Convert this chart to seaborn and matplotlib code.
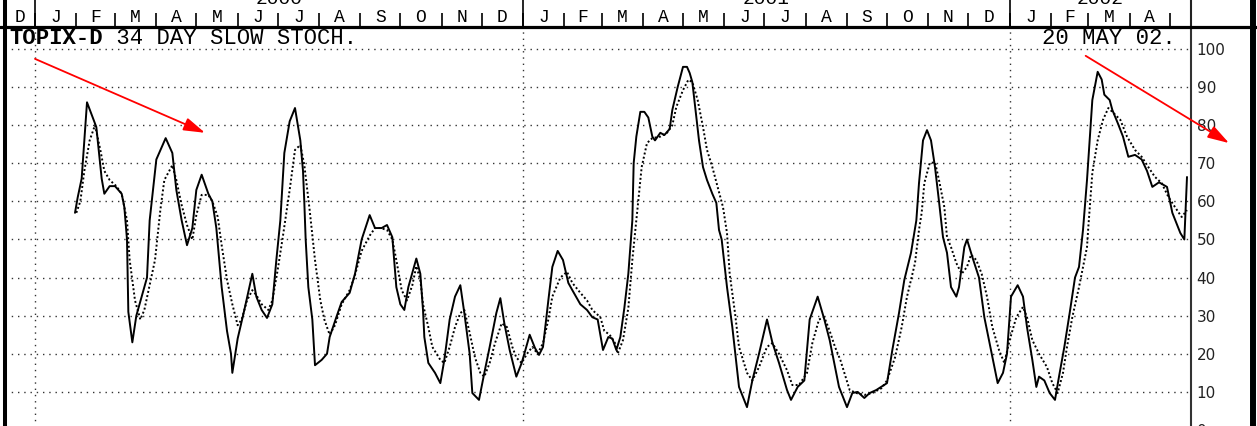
import pandas as pd
import matplotlib
matplotlib.use("Agg")
import matplotlib.pyplot as plt
from matplotlib.lines import Line2D
import seaborn as sns

# 基準日（日数はここからの経過日）
start = pd.Timestamp("2000-01-01")

# %K（実線）
k_days = [
    30, 32, 35, 39, 46, 50, 52, 56, 60, 65,
    67, 69, 70, 73, 76, 80, 84, 86, 91, 98,
    103, 106, 110, 114, 118, 121, 125, 130, 133, 136,
    140, 144, 147, 148, 152, 157, 163, 166, 170, 174,
    178, 181, 184, 187, 191, 195, 199, 201, 202, 203,
    205, 208, 210, 215, 219, 221, 226, 230, 236, 240,
    245, 251, 255, 260, 264, 268, 271, 274, 277, 280,
    286, 289, 291, 292, 295, 300, 304, 307, 311, 315,
    319, 322, 326, 328, 333, 337, 341, 346, 349, 352,
    356, 361, 365, 367, 371, 375, 378, 381, 385, 388,
    392, 396, 400, 403, 409, 414, 418, 422, 426, 430,
    433, 436, 439, 442, 445, 448, 449, 451, 454, 457,
    460, 463, 465, 469, 472, 476, 478, 482, 486, 489,
    491, 493, 496, 498, 501, 504, 508, 511, 513, 515,
    519, 523, 528, 534, 538, 543, 549, 553, 558, 564,
    567, 572, 577, 581, 587, 592, 596, 600, 603, 609,
    613, 617, 622, 626, 631, 639, 643, 648, 652, 657,
    661, 663, 666, 669, 672, 675, 678, 681, 684, 687,
    691, 693, 697, 699, 703, 708, 712, 717, 722, 726,
    729, 732, 737, 741, 744, 748, 751, 753, 757, 761,
    765, 768, 772, 776, 780, 783, 786, 789, 791, 793,
    797, 800, 802, 806, 808, 812, 816, 820, 825, 830,
    834, 838, 843, 849, 853, 859, 862, 864,
]
k_vals = [
    57, 61, 66, 86, 79.5, 66, 62, 64, 64, 62,
    58.5, 50, 31, 23, 30, 35, 40, 55, 71, 76.6,
    72.7, 63, 55, 48.5, 53, 63, 67, 62, 60, 53,
    37.5, 26, 20, 15, 24, 31.5, 41, 35, 31.5, 29.4,
    33, 44.6, 55, 72.7, 81, 84.5, 76, 68, 59.6, 50,
    37.5, 29, 17, 18.4, 20, 24.4, 29.6, 33.6, 36, 41,
    50, 56.4, 53, 53, 53.8, 50.6, 37.5, 33, 31.5, 37.5,
    45, 41, 31.5, 24.4, 17.6, 15, 12.3, 18.4, 29, 35,
    38, 30.7, 20, 9.7, 7.9, 15, 21.8, 30.7, 34.6, 28,
    21, 14, 17.6, 20, 25, 21.5, 19.7, 21.8, 34, 42.8,
    47, 44.6, 38.6, 36.7, 33, 31.5, 29.6, 29, 21, 24.4,
    24, 21, 24.4, 32, 41, 55, 70, 77, 83.5, 83.5,
    82, 77, 76, 78, 77.4, 79, 84, 90, 95.3, 95.3,
    93.7, 91.3, 82, 76, 69, 65.6, 62, 59.6, 52.5, 50,
    37.5, 27, 11.3, 6, 13, 20, 29, 23, 17.6, 10.5,
    7.9, 11.3, 13, 29, 35, 29, 23.6, 16.5, 11.3, 6,
    9.7, 10, 8.4, 9.7, 10.5, 12.3, 21, 30.7, 39.4, 46.5,
    55, 64.8, 76, 78.7, 76, 69, 60, 50.6, 46.5, 37.5,
    35, 37.5, 48, 50, 45.4, 40, 29.6, 21, 12.3, 15,
    20, 35, 38, 35, 27, 18.4, 11.3, 14, 13, 9.7,
    7.9, 14, 21.8, 30.7, 40, 42.8, 52.5, 65.6, 76, 86.6,
    94, 92, 88, 86.6, 84, 80.6, 77, 71.7, 72.2, 71,
    68, 63.8, 65, 63.8, 57, 51.7, 50, 66.4,
]

# %D（点線）
d_days = [
    31, 34, 37, 41, 45, 49, 52, 56, 61, 65,
    69, 71, 75, 79, 82, 86, 90, 94, 97, 103,
    106, 110, 114, 118, 121, 125, 130, 133, 137, 140,
    144, 148, 152, 155, 159, 163, 166, 170, 175, 178,
    182, 186, 191, 195, 199, 202, 206, 210, 214, 217,
    221, 225, 230, 236, 240, 245, 251, 255, 259, 264,
    268, 271, 275, 279, 283, 286, 289, 291, 295, 298,
    304, 307, 311, 315, 319, 322, 326, 330, 334, 337,
    341, 345, 350, 354, 358, 361, 365, 369, 373, 377,
    381, 385, 388, 394, 399, 403, 409, 414, 418, 424,
    427, 431, 435, 437, 441, 445, 448, 451, 455, 459,
    463, 469, 474, 478, 481, 486, 490, 493, 497, 501,
    504, 508, 512, 516, 519, 521, 525, 528, 534, 538,
    543, 549, 553, 558, 564, 568, 573, 579, 583, 588,
    592, 596, 600, 604, 607, 611, 616, 622, 628, 635,
    639, 645, 650, 654, 660, 663, 665, 667, 671, 675,
    678, 682, 684, 687, 691, 695, 699, 702, 706, 710,
    714, 718, 723, 727, 731, 736, 741, 744, 748, 753,
    759, 763, 767, 771, 774, 778, 783, 789, 790, 793,
    797, 801, 805, 808, 814, 819, 825, 830, 835, 840,
    845, 850, 855, 860, 864,
]
d_vals = [
    57, 60, 68, 76, 80, 73.5, 68, 65.6, 64, 62,
    55, 44.6, 34, 29, 31.5, 38, 44.6, 57.7, 65.6, 69.5,
    65.6, 59, 53.8, 50, 56.4, 61.7, 61.7, 60, 56, 48.5,
    39.4, 33, 27.5, 29, 34, 36.7, 35.4, 33, 31.5, 34,
    42, 51, 63, 73.5, 74.8, 69.5, 57.7, 44.6, 34, 29,
    25, 27.5, 33, 36.7, 40.7, 47, 51, 53, 53, 52.5,
    50, 44.6, 36.7, 34, 38, 43, 39.4, 33, 27, 21.8,
    18.4, 17.6, 21.8, 27, 30.7, 31.5, 25.5, 19, 15, 14,
    17.6, 22.8, 28, 27, 21.8, 19, 17.6, 20, 21.8, 20,
    22.8, 29, 35, 40, 41.5, 38.6, 36, 34, 31.5, 29.6,
    26, 25, 22.8, 20, 23.6, 32, 44.6, 55, 69, 75.3,
    76.6, 77, 78, 80, 84.8, 89.2, 91.9, 91.3, 86.6, 79.5,
    73.5, 69, 63.8, 58.5, 51.7, 41, 30.7, 21.8, 15, 13,
    16.5, 21.8, 22.8, 20, 15.7, 11.8, 11.8, 15, 22.8, 29,
    29.6, 26, 21.8, 18.4, 15, 10.5, 9.7, 9.2, 9.7, 11,
    13, 19, 27, 35, 43.8, 52.5, 57, 64.8, 70, 70.3,
    65.6, 58.5, 50.6, 48, 43.8, 41, 42.8, 46, 44.6, 41,
    35, 27, 21, 17.6, 23.6, 29.6, 32.3, 29.6, 23.6, 20,
    16.5, 12.3, 9.7, 15, 21.8, 29.6, 37.5, 48, 53.3, 67.5,
    76, 81.4, 84.5, 83.5, 81.4, 77, 73.5, 71.7, 69, 66.4,
    64.8, 61.2, 58.5, 55.9, 57.7,
]

y_ticks = [0, 10, 20, 30, 40, 50, 60, 70, 80, 90, 100]
month_labels = list("DJFMAMJJASONDJFMAMJJASONDJFMA")
year_labels = ["2000", "2001", "2002"]

# 矢印（始点・終点：経過日, 値）
arrow_from = [(0, 97.4), (788, 98.2)]
arrow_to = [(127.5, 78), (895.5, 75.3)]

df_k = pd.DataFrame({"date": start + pd.to_timedelta(k_days, unit="D"),
                     "value": k_vals, "line": "%K"})
df_d = pd.DataFrame({"date": start + pd.to_timedelta(d_days, unit="D"),
                     "value": d_vals, "line": "%D"})
df = pd.concat([df_k, df_d], ignore_index=True)

sns.set_theme(style="white")
plt.rcParams["font.family"] = ["DejaVu Sans"]

W, H = 1257, 426
fig = plt.figure(figsize=(W / 100, H / 100), dpi=100)
fig.patch.set_facecolor("white")

# メイン（下端は図の外へ少しはみ出す）
ax = fig.add_axes([5 / W, -4 / H, 1186 / W, 402 / H])
hx = fig.add_axes([5 / W, 1 - 28 / H, 1186 / W, 28 / H], sharex=ax)

x_min = start + pd.Timedelta(days=-22.5)
x_max = start + pd.Timedelta(days=867)

sns.lineplot(
    data=df, x="date", y="value", style="line",
    dashes={"%K": "", "%D": (1, 1.2)},
    color="black", linewidth=1.4,
    estimator=None, legend=False, ax=ax
)

ax.set_xlim(x_min, x_max)
ax.set_ylim(0, 105.5)

year_starts = [pd.Timestamp(f"{y}-01-01") for y in year_labels]
ax.set_xticks(year_starts)
ax.set_yticks(y_ticks)
ax.yaxis.tick_right()
ax.tick_params(axis="x", bottom=False, labelbottom=False)
ax.tick_params(axis="y", length=0, pad=4, labelsize=11, labelcolor="#222222")
ax.grid(True, linestyle=(0, (1, 3.5)), linewidth=1.0, color="#333333")
ax.set_xlabel("")
ax.set_ylabel("")
for s in ["top", "bottom", "left"]:
    ax.spines[s].set_visible(False)
ax.spines["right"].set_color("#333333")
ax.spines["right"].set_linewidth(1.5)

# 赤い矢印
for (d0, v0), (d1, v1) in zip(arrow_from, arrow_to):
    ax.annotate(
        "",
        xy=(start + pd.Timedelta(days=d1), v1),
        xytext=(start + pd.Timedelta(days=d0), v0),
        arrowprops=dict(arrowstyle="-|>,head_length=0.65,head_width=0.2",
                        color="red", lw=1.3, shrinkA=0, shrinkB=0,
                        mutation_scale=20),
        annotation_clip=False,
    )

# 上部の月ヘッダー
hx.set_ylim(0, 1)
hx.set_yticks([])
hx.tick_params(axis="x", bottom=False, labelbottom=False)
for s in ["top", "bottom", "left"]:
    hx.spines[s].set_visible(False)
hx.spines["right"].set_color("#222222")
hx.spines["right"].set_linewidth(1.5)

months = pd.date_range("1999-12-01", periods=len(month_labels), freq="MS")
hx.vlines(months[1:], 0.07, 0.54, color="black", linewidth=1.2)
hx.vlines(year_starts, 0.07, 1.0, color="black", linewidth=1.2)
hx.vlines([pd.Timestamp("2002-05-01")], 0.07, 0.54, color="black", linewidth=1.2)

for m, lab in zip(months, month_labels):
    a = max(m, x_min)
    b = min(m + pd.offsets.MonthBegin(1), x_max)
    hx.text(a + (b - a) / 2, 0.06, lab, ha="center", va="bottom",
            family="Liberation Mono", fontsize=13, color="black")

for ys, lab in zip(year_starts, year_labels):
    a = max(ys, x_min)
    b = min(ys + pd.DateOffset(years=1), x_max)
    hx.text(a + (b - a) / 2, 0.70, lab, ha="center", va="bottom",
            family="Liberation Mono", fontsize=14, color="black", clip_on=False)

# 枠線
fig.add_artist(Line2D([0, 1], [1 - 26.5 / H, 1 - 26.5 / H], transform=fig.transFigure,
                      color="black", linewidth=2.3))
fig.add_artist(Line2D([5 / W, 5 / W], [0, 1], transform=fig.transFigure,
                      color="black", linewidth=2.9))
fig.add_artist(Line2D([1253 / W, 1253 / W], [0, 1], transform=fig.transFigure,
                      color="black", linewidth=4.3))

# タイトル
t1 = fig.text(9 / W, 1 - 44 / H, "TOPIX-D", family="Liberation Mono",
              weight="bold", fontsize=16, color="black", va="baseline")
fig.canvas.draw()
ax.annotate(" 34 DAY SLOW STOCH.", xy=(1, 0), xycoords=t1, va="bottom", ha="left",
            family="Liberation Mono", fontsize=16, color="black")
fig.text(1176 / W, 1 - 44 / H, "20 MAY 02.", family="Liberation Mono",
         fontsize=16, color="black", va="baseline", ha="right")

fig.savefig("out.png", dpi=100, facecolor="white")
